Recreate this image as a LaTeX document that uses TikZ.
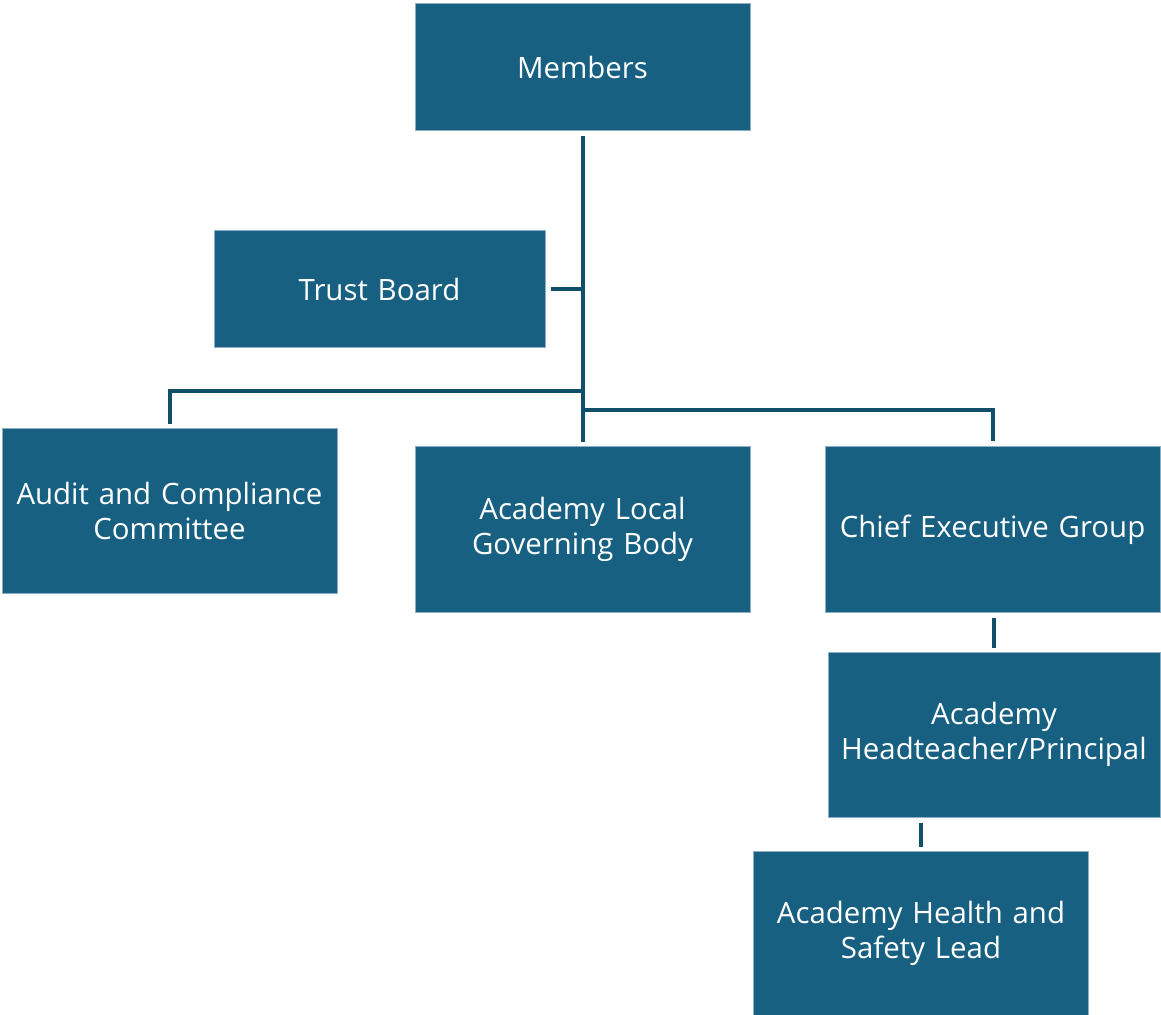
\documentclass[tikz,border=0pt]{standalone}
\usepackage{fontspec}
\setmainfont{Open Sans}
\usetikzlibrary{positioning}
\definecolor{boxblue}{RGB}{24,96,130}
\definecolor{boxedge}{RGB}{140,175,198}
\definecolor{linkblue}{RGB}{16,78,106}
\tikzstyle{block} = [rectangle, draw=boxedge, line width=0.5pt, fill=boxblue,
    text=white, text width=164pt, align=center, inner sep=0pt,
    minimum width=167.5pt, minimum height=82.5pt,
    font=\fontsize{14.7}{17.5}\selectfont]
\tikzstyle{link} = [draw=linkblue, line width=2pt, shorten <=2.5pt, shorten >=2pt]

\begin{document}
\begin{tikzpicture}[x=0.5pt, y=-0.5pt]
		\useasboundingbox (0,0) rectangle (1161,1015);
		% Draw nodes
		\node [block, minimum height=63.5pt] (members) at (582.5,67.5) {Members};
		\node [block, minimum width=165.5pt, minimum height=58.5pt] (trust) at (379.5,289.5) {Trust Board};
		\node [block] (audit) at (169.5,511) {Audit and Compliance\\Committee};
		\node [block] (algb) at (582.5,529.5) {Academy Local\\Governing Body};
		\node [block, right of=algb, node distance=205pt] (ceg) {Chief Executive Group};
		\node [block, minimum width=166pt] (head) at (994,734.5) {Academy\\Headteacher/Principal};
		\node [block] (hs) at (921,933.5) {Academy Health and\\Safety Lead};
		\coordinate (auditjoin) at (582.5,391);
		\coordinate (cegjoin) at (582.5,410);
		% Draw lines connecting
		\path [link] (members.south) -- (algb.north);
		\path [link, shorten >=0pt] (trust.east) -- (trust.east -| members.south);
		\path [link, shorten <=0pt] (auditjoin) -| (audit.north);
		\path [link, shorten <=0pt, shorten >=2.5pt] (cegjoin) -| (ceg.north);
		\path [link] (head.north |- ceg.south) -- (head.north);
		\path [link] (hs.north |- head.south) -- (hs.north);
	\end{tikzpicture}
\end{document}
